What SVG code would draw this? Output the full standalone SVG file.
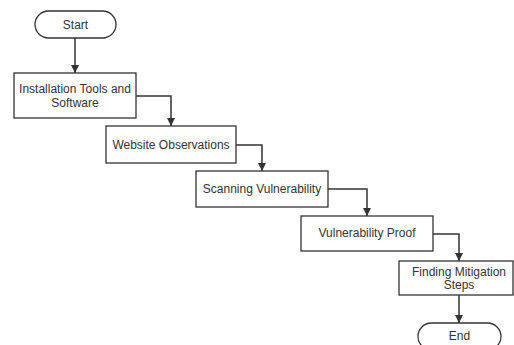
<svg xmlns="http://www.w3.org/2000/svg" width="514" height="345" viewBox="0 0 514 345">
<style>
.box{fill:#fff;stroke:#333;stroke-width:1.3}
.t{font-family:"Liberation Sans",Arial,sans-serif;font-size:12px;fill:#333;text-anchor:middle;dominant-baseline:central}
.c{fill:none;stroke:#333;stroke-width:1.5}
</style>
<defs>
<marker id="a" viewBox="0 0 10 10" refX="10" refY="5" markerWidth="5.5" markerHeight="5.5" orient="auto" markerUnits="strokeWidth">
<path d="M0,0 L10,5 L0,10 z" fill="#333"/>
</marker>
</defs>
<rect width="514" height="345" fill="#fff"/>
<g id="connectors">
<path class="c" d="M75,38 V73" marker-end="url(#a)"/>
<path class="c" d="M136,96 H171 V126" marker-end="url(#a)"/>
<path class="c" d="M236,145 H262 V171" marker-end="url(#a)"/>
<path class="c" d="M328,189 H367 V216" marker-end="url(#a)"/>
<path class="c" d="M433,234 H459 V261" marker-end="url(#a)"/>
<path class="c" d="M459,295 V323" marker-end="url(#a)"/>
</g>
<g id="start">
<rect class="box" x="35" y="11" width="81" height="27" rx="13.5"/>
<text class="t" x="75.5" y="24.5">Start</text>
</g>
<g id="install">
<rect class="box" x="14" y="73" width="122" height="45"/>
<text class="t" x="75" y="89">Installation Tools and</text>
<text class="t" x="75" y="102.5">Software</text>
</g>
<g id="website">
<rect class="box" x="106" y="126" width="130" height="37"/>
<text class="t" x="171" y="144.5">Website Observations</text>
</g>
<g id="scanning">
<rect class="box" x="196" y="171" width="132" height="36"/>
<text class="t" x="262" y="188.5">Scanning Vulnerability</text>
</g>
<g id="proof">
<rect class="box" x="301" y="216" width="132" height="35"/>
<text class="t" x="367" y="233">Vulnerability Proof</text>
</g>
<g id="mitigation">
<rect class="box" x="399" y="261" width="114" height="34"/>
<text class="t" x="459" y="271.5">Finding Mitigation</text>
<text class="t" x="459" y="284.5">Steps</text>
</g>
<g id="end">
<rect class="box" x="418" y="323" width="83" height="27" rx="13.5"/>
<text class="t" x="459.5" y="336">End</text>
</g>
</svg>
